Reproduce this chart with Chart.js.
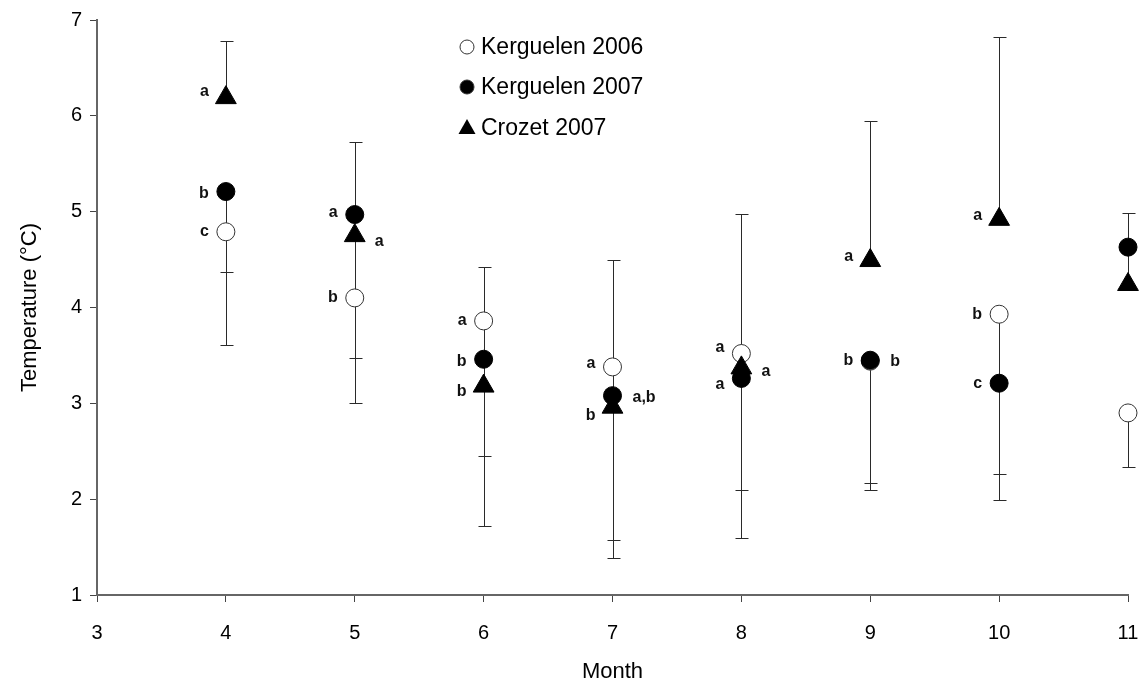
<!DOCTYPE html>
<html>
<head>
<meta charset="utf-8">
<script src="https://cdn.jsdelivr.net/npm/chart.js@4/dist/chart.umd.min.js"></script>
<style>
  html, body { margin: 0; padding: 0; background: #fff; }
  canvas { display: block; }
</style>
</head>
<body>
<canvas id="grafica" width="1147" height="693"></canvas>
<script>
// DATOS
const meses = [4, 5, 6, 7, 8, 9, 10, 11];

const kerg2006 = [4.79, 4.10, 3.86, 3.38, 3.52, 3.44, 3.93, 2.90];
const kerg2007 = [5.21, 4.97, 3.46, 3.08, 3.26, 3.45, 3.21, 4.63];
const crozet2007 = [6.19, 4.75, 3.18, 2.96, 3.37, 4.49, 4.92, 4.24];

// extremos de las barras de error (null = sin barra)
const kerg2006Alto = [null, null, 4.42, 4.50, 4.98, null, null, null];
const kerg2006Bajo = [3.61, 3.00, 2.45, 1.57, 2.10, 2.17, 2.26, 2.34];
const kerg2007Alto = [null, 5.73, null, null, null, null, null, null];
const kerg2007Bajo = [4.37, null, null, null, null, 2.10, 1.99, null];
const crozetAlto = [6.78, null, null, null, null, 5.95, 6.82, 4.99];
const crozetBajo = [null, 3.47, 1.72, 1.39, 1.60, null, null, null];

// letras de significancia
const kerg2006Letras = ['c', 'b', 'a', 'a', 'a', 'b', 'b', ''];
const kerg2007Letras = ['b', 'a', 'b', 'a,b', 'a', 'b', 'c', ''];
const crozetLetras = ['a', 'a', 'b', 'b', 'a', 'a', 'a', ''];

// lado de la letra: -1 izquierda, 1 derecha
const kerg2006Lado = [-1, -1, -1, -1, -1, 1, -1, 0];
const kerg2007Lado = [-1, -1, -1, 1, -1, -1, -1, 0];
const crozetLado = [-1, 1, -1, -1, 1, -1, -1, 0];

const ticksX = [3, 4, 5, 6, 7, 8, 9, 10, 11];
const ticksY = [1, 2, 3, 4, 5, 6, 7];

const series = [
    { nombre: 'Kerguelen 2006', valores: kerg2006, alto: kerg2006Alto, bajo: kerg2006Bajo, letras: kerg2006Letras, lado: kerg2006Lado, dy: [0, 0, 0, -3, -6, 0, 0, 0] },
    { nombre: 'Kerguelen 2007', valores: kerg2007, alto: kerg2007Alto, bajo: kerg2007Bajo, letras: kerg2007Letras, lado: kerg2007Lado, dy: [2, -2, 2, 2, 6, 0, 0, 0] },
    { nombre: 'Crozet 2007', valores: crozet2007, alto: crozetAlto, bajo: crozetBajo, letras: crozetLetras, lado: crozetLado, dy: [-6, 6, 6, 8, 4, -4, -4, 0] }
];

const puntos = arr => meses.map((m, i) => ({ x: m, y: arr[i] }));

// BARRAS DE ERROR (debajo de los símbolos)
const barrasError = {
    id: 'barrasError',
    beforeDatasetsDraw(chart) {
        const ctx = chart.ctx, xs = chart.scales.x, ys = chart.scales.y;
        ctx.save();
        ctx.strokeStyle = '#2a2a2a';
        ctx.lineWidth = 1;
        series.forEach(s => {
            meses.forEach((m, i) => {
                const x = Math.round(xs.getPixelForValue(m)) + 0.5;
                const y0 = ys.getPixelForValue(s.valores[i]);
                [s.alto[i], s.bajo[i]].forEach(v => {
                    if (v == null) return;
                    const y1 = Math.round(ys.getPixelForValue(v)) + 0.5;
                    ctx.beginPath();
                    ctx.moveTo(x, y0);
                    ctx.lineTo(x, y1);
                    ctx.moveTo(x - 6, y1);
                    ctx.lineTo(x + 7, y1);
                    ctx.stroke();
                });
            });
        });
        ctx.restore();
    }
};

// LETRAS
const letras = {
    id: 'letras',
    afterDatasetsDraw(chart) {
        const ctx = chart.ctx, xs = chart.scales.x, ys = chart.scales.y;
        ctx.save();
        ctx.font = 'bold 16px "Liberation Sans", Arial, sans-serif';
        ctx.fillStyle = '#111';
        ctx.textBaseline = 'middle';
        series.forEach(s => {
            meses.forEach((m, i) => {
                const t = s.letras[i];
                if (!t) return;
                const x = xs.getPixelForValue(m);
                const y = ys.getPixelForValue(s.valores[i]) + s.dy[i];
                if (s.lado[i] < 0) {
                    ctx.textAlign = 'right';
                    ctx.fillText(t, x - 17, y);
                } else {
                    ctx.textAlign = 'left';
                    ctx.fillText(t, x + 20, y);
                }
            });
        });
        ctx.restore();
    }
};

// LEYENDA
const leyenda = {
    id: 'leyenda',
    afterDraw(chart) {
        const ctx = chart.ctx;
        const x0 = 467, filas = [47, 87, 128];
        ctx.save();
        ctx.font = '23px "Liberation Sans", Arial, sans-serif';
        ctx.textBaseline = 'middle';
        ctx.textAlign = 'left';
        series.forEach((s, k) => {
            const y = filas[k];
            ctx.beginPath();
            if (k === 2) {
                ctx.moveTo(x0, y - 9);
                ctx.lineTo(x0 + 8.5, y + 6);
                ctx.lineTo(x0 - 8.5, y + 6);
                ctx.closePath();
                ctx.fillStyle = '#000';
                ctx.fill();
            } else {
                ctx.arc(x0, y, 7, 0, Math.PI * 2);
                ctx.fillStyle = k === 0 ? '#fff' : '#000';
                ctx.fill();
                ctx.strokeStyle = '#333';
                ctx.lineWidth = 1;
                ctx.stroke();
            }
            ctx.fillStyle = '#000';
            ctx.fillText(s.nombre, x0 + 14, y + 1);
        });
        ctx.restore();
    }
};

const fuenteEje = { family: '"Liberation Sans", Arial, sans-serif', size: 20 };

new Chart(document.getElementById('grafica'), {
    type: 'scatter',
    data: {
        datasets: [
            {
                label: 'Kerguelen 2006', data: puntos(kerg2006), order: 3, clip: false,
                pointStyle: 'circle', pointRadius: 9,
                backgroundColor: '#fff', borderColor: '#333', borderWidth: 1
            },
            {
                label: 'Kerguelen 2007', data: puntos(kerg2007), order: 1, clip: false,
                pointStyle: 'circle', pointRadius: 9,
                backgroundColor: '#000', borderColor: '#000', borderWidth: 1
            },
            {
                label: 'Crozet 2007', data: puntos(crozet2007), order: 2, clip: false,
                pointStyle: 'triangle', pointRadius: 12,
                backgroundColor: '#000', borderColor: '#000', borderWidth: 1
            }
        ]
    },
    options: {
        responsive: false,
        animation: false,
        events: [],
        layout: { autoPadding: false, padding: { left: 0, right: 19, top: 20, bottom: 0 } },
        plugins: { legend: { display: false }, tooltip: { enabled: false } },
        scales: {
            x: {
                type: 'linear', min: 3, max: 11,
                afterFit: s => { s.height = 98; s.paddingLeft = 0; s.paddingRight = 0; },
                afterBuildTicks: s => { s.ticks = ticksX.map(v => ({ value: v })); },
                border: { color: '#666', width: 2 },
                grid: { drawOnChartArea: false, tickLength: 7, tickColor: '#444' },
                ticks: { color: '#000', font: fuenteEje, padding: 19 },
                title: {
                    display: true, text: 'Month', color: '#000',
                    font: { family: '"Liberation Sans", Arial, sans-serif', size: 22 },
                    padding: { top: 0, bottom: 8 }
                }
            },
            y: {
                type: 'linear', min: 1, max: 7,
                afterFit: s => { s.width = 97; s.paddingTop = 0; s.paddingBottom = 0; },
                afterBuildTicks: s => { s.ticks = ticksY.map(v => ({ value: v })); },
                border: { color: '#666', width: 2 },
                grid: { drawOnChartArea: false, tickLength: 7, tickColor: '#444' },
                ticks: { color: '#000', font: fuenteEje, padding: 8 },
                title: {
                    display: true, text: 'Temperature (°C)', color: '#000',
                    font: { family: '"Liberation Sans", Arial, sans-serif', size: 22 },
                    padding: { top: 17, bottom: 0 }
                }
            }
        }
    },
    plugins: [barrasError, letras, leyenda]
});
</script>
</body>
</html>
